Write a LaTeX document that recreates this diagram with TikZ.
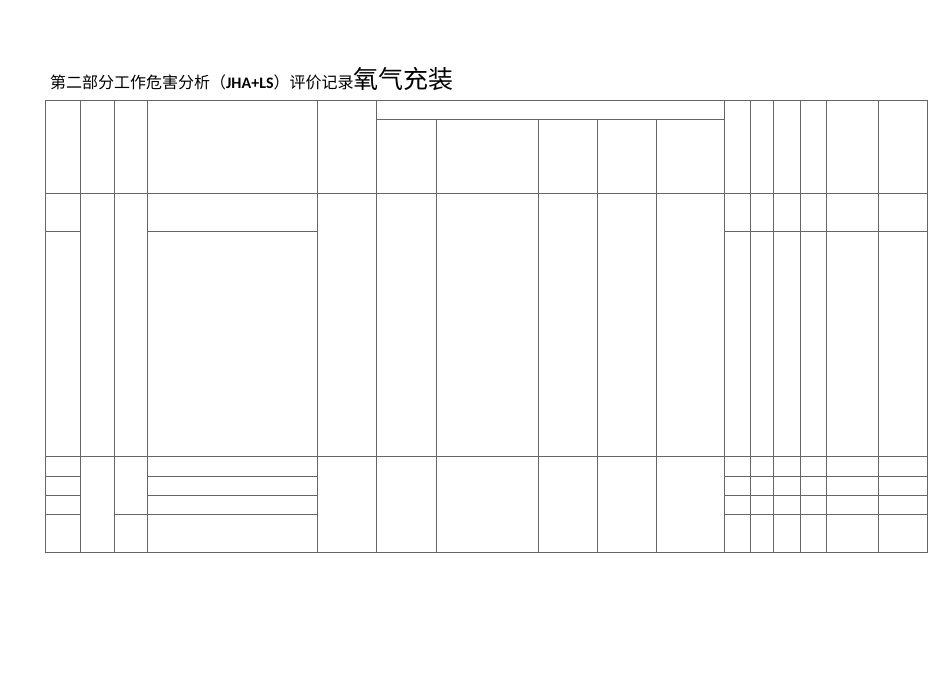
\documentclass[tikz,border=0pt]{standalone}
\usepackage{fontspec}
\newfontfamily\cjk{Noto Sans CJK SC}
\newfontfamily\lat{Carlito}
\begin{document}
\begin{tikzpicture}[x=1pt,y=-1pt,grid/.style={draw=black!60,line width=0.6pt}]
\useasboundingbox (0,0) rectangle (950,672);
\node[anchor=base west,inner sep=0pt] (title) at (50,88) {\cjk\fontsize{16}{16}\selectfont 第二部分工作危害分析（{\lat\bfseries JHA+LS}）评价记录{\fontsize{25}{25}\selectfont 氧气充装}};
% outer
\draw[grid] (45,100) rectangle (927,552);
% full-height verticals
\foreach \x in {80,114,147,317,376,724,750,773,800,826,878}
  \draw[grid] (\x,100) -- (\x,552);
\foreach \x in {436,538,597,656}
  \draw[grid] (\x,119) -- (\x,552);
\draw[grid] (376,119) -- (724,119);
\draw[grid] (45,193) -- (927,193);
\draw[grid] (45,456) -- (927,456);
\foreach \y in {231,476,495}{
  \draw[grid] (45,\y) -- (80,\y);
  \draw[grid] (147,\y) -- (317,\y);
  \draw[grid] (724,\y) -- (927,\y);
}
\draw[grid] (45,514) -- (80,514);
\draw[grid] (114,514) -- (317,514);
\draw[grid] (724,514) -- (927,514);
\end{tikzpicture}
\end{document}
